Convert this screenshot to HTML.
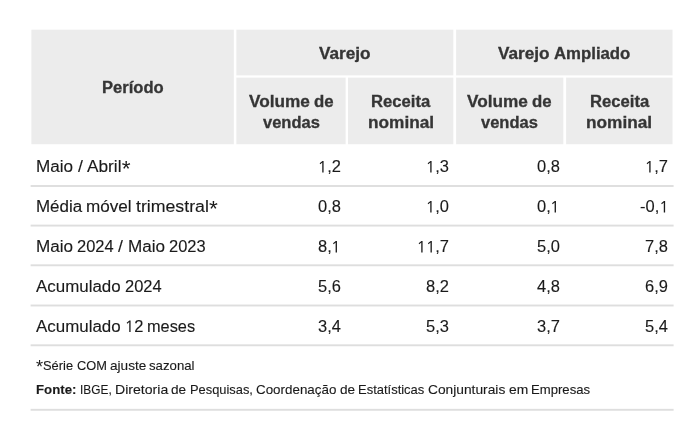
<!DOCTYPE html>
<html><head><meta charset="utf-8">
<style>
html,body{margin:0;padding:0;background:#fff;}
body{width:700px;height:442px;position:relative;overflow:hidden;font-family:"Liberation Sans",sans-serif;}
.o{display:inline-block;width:8.9px;height:11.45px;vertical-align:baseline;fill:currentColor;overflow:visible}
.t{position:absolute;white-space:nowrap;line-height:20px;transform-origin:0 0;-webkit-text-stroke:0.12px currentColor;}
</style></head><body>
<svg width="700" height="442" viewBox="0 0 700 442" style="position:absolute;left:0;top:0" shape-rendering="geometricPrecision">
<rect x="31.4" y="29.7" width="641.1" height="114.5" fill="#ececec"/>
<rect x="233.8" y="29" width="2.6" height="116" fill="#fff"/>
<rect x="453.3" y="29" width="2.8" height="116" fill="#fff"/>
<rect x="345.6" y="76" width="2.4" height="69" fill="#fff"/>
<rect x="563.3" y="76" width="2.8" height="69" fill="#fff"/>
<rect x="235" y="75.4" width="438" height="2.2" fill="#fff"/>
<rect x="30.6" y="185.05" width="643" height="1.9" fill="#dedede"/>
<rect x="30.6" y="224.65" width="643" height="1.9" fill="#dedede"/>
<rect x="30.6" y="264.35" width="643" height="1.9" fill="#dedede"/>
<rect x="30.6" y="304.55" width="643" height="1.9" fill="#dedede"/>
<rect x="30.6" y="344.35" width="643" height="1.9" fill="#dedede"/>
<rect x="30.6" y="408.85" width="643" height="1.9" fill="#dedede"/>
</svg>
<div style="position:absolute;left:0;top:0;width:700px;height:442px;will-change:transform">
<div class="t" style="left:102.01px;top:78px;font-size:16.00px;font-weight:bold;color:#353535;-webkit-text-stroke-width:0.3px;transform:scaleX(1.0340)">Período</div>
<div class="t" style="left:319.06px;top:43px;font-size:16.00px;font-weight:bold;color:#353535;-webkit-text-stroke-width:0.3px;transform:translateY(0.50px) scaleX(1.0737)">Varejo</div>
<div class="t" style="left:498.27px;top:43px;font-size:16.00px;font-weight:bold;color:#353535;-webkit-text-stroke-width:0.3px;transform:translateY(0.50px) scaleX(1.0737)">Varejo</div>
<div class="t" style="left:554.00px;top:43px;font-size:16.00px;font-weight:bold;color:#353535;-webkit-text-stroke-width:0.3px;transform:translateY(0.50px) scaleX(1.0473)">Ampliado</div>
<div class="t" style="left:248.70px;top:92px;font-size:16.00px;font-weight:bold;color:#353535;-webkit-text-stroke-width:0.3px;transform:scaleX(1.0752)">Volume</div>
<div class="t" style="left:313.72px;top:92px;font-size:16.00px;font-weight:bold;color:#353535;-webkit-text-stroke-width:0.3px;transform:scaleX(1.0485)">de</div>
<div class="t" style="left:262.59px;top:113px;font-size:16.00px;font-weight:bold;color:#353535;-webkit-text-stroke-width:0.3px;transform:scaleX(1.0303)">vendas</div>
<div class="t" style="left:371.06px;top:92px;font-size:16.00px;font-weight:bold;color:#353535;-webkit-text-stroke-width:0.3px;transform:scaleX(1.0398)">Receita</div>
<div class="t" style="left:367.61px;top:113px;font-size:16.00px;font-weight:bold;color:#353535;-webkit-text-stroke-width:0.3px;transform:scaleX(1.0772)">nominal</div>
<div class="t" style="left:467.40px;top:92px;font-size:16.00px;font-weight:bold;color:#353535;-webkit-text-stroke-width:0.3px;transform:scaleX(1.0752)">Volume</div>
<div class="t" style="left:532.42px;top:92px;font-size:16.00px;font-weight:bold;color:#353535;-webkit-text-stroke-width:0.3px;transform:scaleX(1.0485)">de</div>
<div class="t" style="left:481.29px;top:113px;font-size:16.00px;font-weight:bold;color:#353535;-webkit-text-stroke-width:0.3px;transform:scaleX(1.0303)">vendas</div>
<div class="t" style="left:589.81px;top:92px;font-size:16.00px;font-weight:bold;color:#353535;-webkit-text-stroke-width:0.3px;transform:scaleX(1.0398)">Receita</div>
<div class="t" style="left:586.36px;top:113px;font-size:16.00px;font-weight:bold;color:#353535;-webkit-text-stroke-width:0.3px;transform:scaleX(1.0772)">nominal</div>
<div class="t" style="left:36.00px;top:157px;font-size:16.00px;color:#1a1a1a;transform:scaleX(1.0682)">Maio</div>
<div class="t" style="left:77.70px;top:157px;font-size:16.00px;color:#1a1a1a;transform:scaleX(1.1000)">/</div>
<div class="t" style="left:87.24px;top:157px;font-size:16.00px;color:#1a1a1a;transform:scaleX(1.0793)">Abril</div>
<div class="t" style="left:121.80px;top:158px;font-size:22.65px;color:#1a1a1a;-webkit-text-stroke:0;transform:translateY(0.11px) scaleX(1.0000)">*</div>
<div class="t" style="left:36.00px;top:197px;font-size:16.00px;color:#1a1a1a;transform:scaleX(1.0595)">Média</div>
<div class="t" style="left:86.33px;top:197px;font-size:16.00px;color:#1a1a1a;transform:scaleX(1.0679)">móvel</div>
<div class="t" style="left:136.07px;top:197px;font-size:16.00px;color:#1a1a1a;transform:scaleX(1.1074)">trimestral</div>
<div class="t" style="left:208.91px;top:198px;font-size:22.65px;color:#1a1a1a;-webkit-text-stroke:0;transform:translateY(0.11px) scaleX(1.0000)">*</div>
<div class="t" style="left:36.00px;top:237px;font-size:16.00px;color:#1a1a1a;transform:scaleX(1.0682)">Maio</div>
<div class="t" style="left:77.21px;top:237px;font-size:16.00px;color:#1a1a1a;transform:scaleX(1.0281)">2024</div>
<div class="t" style="left:118.45px;top:237px;font-size:16.00px;color:#1a1a1a;transform:scaleX(1.1000)">/</div>
<div class="t" style="left:127.99px;top:237px;font-size:16.00px;color:#1a1a1a;transform:scaleX(1.0682)">Maio</div>
<div class="t" style="left:169.20px;top:237px;font-size:16.00px;color:#1a1a1a;transform:scaleX(1.0281)">2023</div>
<div class="t" style="left:36.00px;top:276px;font-size:16.00px;color:#1a1a1a;transform:translateY(0.50px) scaleX(1.0579)">Acumulado</div>
<div class="t" style="left:124.84px;top:276px;font-size:16.00px;color:#1a1a1a;transform:translateY(0.50px) scaleX(1.0281)">2024</div>
<div class="t" style="left:36.00px;top:316px;font-size:16.00px;color:#1a1a1a;transform:translateY(0.50px) scaleX(1.0579)">Acumulado</div>
<div class="t" style="left:124.84px;top:316px;font-size:16.00px;color:#1a1a1a;transform:translateY(0.50px) scaleX(1.0281)"><svg class="o" viewBox="0 0 1171 1462" preserveAspectRatio="none"><path d="M715 1462H545V194L300 400L211 288L569 0H715Z"/></svg>2</div>
<div class="t" style="left:147.29px;top:316px;font-size:16.00px;color:#1a1a1a;transform:translateY(0.50px) scaleX(1.0207)">meses</div>
<div class="t" style="left:36.00px;top:357px;font-size:18.26px;color:#1a1a1a;-webkit-text-stroke:0;transform:translateY(0.42px) scaleX(1.0000)">*</div>
<div class="t" style="left:43.11px;top:356px;font-size:12.90px;color:#1a1a1a;transform:scaleX(0.9996)">Série</div>
<div class="t" style="left:76.54px;top:356px;font-size:12.90px;color:#1a1a1a;transform:scaleX(0.9918)">COM</div>
<div class="t" style="left:109.72px;top:356px;font-size:12.90px;color:#1a1a1a;transform:scaleX(1.0550)">ajuste</div>
<div class="t" style="left:149.37px;top:356px;font-size:12.90px;color:#1a1a1a;transform:scaleX(1.0241)">sazonal</div>
<div class="t" style="left:36.00px;top:380px;font-size:12.90px;font-weight:bold;color:#1a1a1a;transform:translateY(0.40px) scaleX(1.0268)">Fonte:</div>
<div class="t" style="left:79.80px;top:380px;font-size:12.90px;color:#1a1a1a;transform:translateY(0.40px) scaleX(0.9213)">IBGE,</div>
<div class="t" style="left:114.83px;top:380px;font-size:12.90px;color:#1a1a1a;transform:translateY(0.40px) scaleX(1.0924)">Diretoria</div>
<div class="t" style="left:171.40px;top:380px;font-size:12.90px;color:#1a1a1a;transform:translateY(0.40px) scaleX(1.0557)">de</div>
<div class="t" style="left:189.89px;top:380px;font-size:12.90px;color:#1a1a1a;transform:translateY(0.40px) scaleX(0.9972)">Pesquisas,</div>
<div class="t" style="left:256.13px;top:380px;font-size:12.90px;color:#1a1a1a;transform:translateY(0.40px) scaleX(1.0378)">Coordenação</div>
<div class="t" style="left:339.81px;top:380px;font-size:12.90px;color:#1a1a1a;transform:translateY(0.40px) scaleX(1.0557)">de</div>
<div class="t" style="left:358.30px;top:380px;font-size:12.90px;color:#1a1a1a;transform:translateY(0.40px) scaleX(1.0059)">Estatísticas</div>
<div class="t" style="left:427.97px;top:380px;font-size:12.90px;color:#1a1a1a;transform:translateY(0.40px) scaleX(1.0677)">Conjunturais</div>
<div class="t" style="left:508.59px;top:380px;font-size:12.90px;color:#1a1a1a;transform:translateY(0.40px) scaleX(1.0734)">em</div>
<div class="t" style="left:531.18px;top:380px;font-size:12.90px;color:#1a1a1a;transform:translateY(0.40px) scaleX(1.0178)">Empresas</div>
<div class="t" style="left:318.39px;top:157px;font-size:16.00px;color:#1a1a1a;transform:scaleX(1.0281)"><svg class="o" viewBox="0 0 1171 1462" preserveAspectRatio="none"><path d="M715 1462H545V194L300 400L211 288L569 0H715Z"/></svg>,2</div>
<div class="t" style="left:425.89px;top:157px;font-size:16.00px;color:#1a1a1a;transform:scaleX(1.0281)"><svg class="o" viewBox="0 0 1171 1462" preserveAspectRatio="none"><path d="M715 1462H545V194L300 400L211 288L569 0H715Z"/></svg>,3</div>
<div class="t" style="left:537.07px;top:157px;font-size:16.00px;color:#1a1a1a;transform:scaleX(1.0281)">0,8</div>
<div class="t" style="left:645.09px;top:157px;font-size:16.00px;color:#1a1a1a;transform:scaleX(1.0281)"><svg class="o" viewBox="0 0 1171 1462" preserveAspectRatio="none"><path d="M715 1462H545V194L300 400L211 288L569 0H715Z"/></svg>,7</div>
<div class="t" style="left:318.37px;top:197px;font-size:16.00px;color:#1a1a1a;transform:scaleX(1.0281)">0,8</div>
<div class="t" style="left:425.89px;top:197px;font-size:16.00px;color:#1a1a1a;transform:scaleX(1.0281)"><svg class="o" viewBox="0 0 1171 1462" preserveAspectRatio="none"><path d="M715 1462H545V194L300 400L211 288L569 0H715Z"/></svg>,0</div>
<div class="t" style="left:537.09px;top:197px;font-size:16.00px;color:#1a1a1a;transform:scaleX(1.0281)">0,<svg class="o" viewBox="0 0 1171 1462" preserveAspectRatio="none"><path d="M715 1462H545V194L300 400L211 288L569 0H715Z"/></svg></div>
<div class="t" style="left:639.61px;top:197px;font-size:16.00px;color:#1a1a1a;transform:scaleX(1.0281)">-0,<svg class="o" viewBox="0 0 1171 1462" preserveAspectRatio="none"><path d="M715 1462H545V194L300 400L211 288L569 0H715Z"/></svg></div>
<div class="t" style="left:318.39px;top:237px;font-size:16.00px;color:#1a1a1a;transform:scaleX(1.0281)">8,<svg class="o" viewBox="0 0 1171 1462" preserveAspectRatio="none"><path d="M715 1462H545V194L300 400L211 288L569 0H715Z"/></svg></div>
<div class="t" style="left:416.75px;top:237px;font-size:16.00px;color:#1a1a1a;transform:scaleX(1.0281)"><svg class="o" viewBox="0 0 1171 1462" preserveAspectRatio="none"><path d="M715 1462H545V194L300 400L211 288L569 0H715Z"/></svg><svg class="o" viewBox="0 0 1171 1462" preserveAspectRatio="none"><path d="M715 1462H545V194L300 400L211 288L569 0H715Z"/></svg>,7</div>
<div class="t" style="left:537.07px;top:237px;font-size:16.00px;color:#1a1a1a;transform:scaleX(1.0281)">5,0</div>
<div class="t" style="left:645.07px;top:237px;font-size:16.00px;color:#1a1a1a;transform:scaleX(1.0281)">7,8</div>
<div class="t" style="left:318.37px;top:276px;font-size:16.00px;color:#1a1a1a;transform:translateY(0.50px) scaleX(1.0281)">5,6</div>
<div class="t" style="left:425.87px;top:276px;font-size:16.00px;color:#1a1a1a;transform:translateY(0.50px) scaleX(1.0281)">8,2</div>
<div class="t" style="left:537.07px;top:276px;font-size:16.00px;color:#1a1a1a;transform:translateY(0.50px) scaleX(1.0281)">4,8</div>
<div class="t" style="left:645.07px;top:276px;font-size:16.00px;color:#1a1a1a;transform:translateY(0.50px) scaleX(1.0281)">6,9</div>
<div class="t" style="left:318.37px;top:316px;font-size:16.00px;color:#1a1a1a;transform:translateY(0.50px) scaleX(1.0281)">3,4</div>
<div class="t" style="left:425.87px;top:316px;font-size:16.00px;color:#1a1a1a;transform:translateY(0.50px) scaleX(1.0281)">5,3</div>
<div class="t" style="left:537.07px;top:316px;font-size:16.00px;color:#1a1a1a;transform:translateY(0.50px) scaleX(1.0281)">3,7</div>
<div class="t" style="left:645.07px;top:316px;font-size:16.00px;color:#1a1a1a;transform:translateY(0.50px) scaleX(1.0281)">5,4</div>
</div>
</body></html>
